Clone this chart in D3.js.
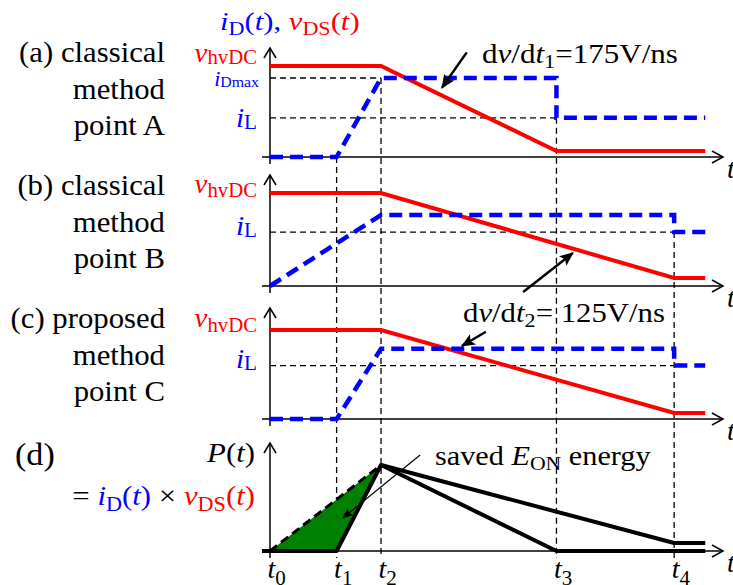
<!DOCTYPE html>
<html>
<head>
<meta charset="utf-8">
<script src="https://cdn.jsdelivr.net/npm/d3@7"></script>
<style>
  body { margin: 0; background: #fff; }
  svg { display: block; font-family: "Liberation Serif", "Times New Roman", serif; }
</style>
</head>
<body>
<svg id="chart" width="733" height="585"></svg>
<script>
// switching instants t0..t4 (arbitrary time units) and end of trace
var tNames = ["0", "1", "2", "3", "4"];
var tVals = [0, 1.5, 2.5, 6.45, 9.1];
var tEnd = 9.8;

// normalised levels (1 = vhvDC)
var iDmaxA = 0.868, iLA = 0.43, vLowA = 0.066;
var iTopB = 0.763, iLB = 0.58, vLowB = 0.086;
var iTopC = 0.79, iLC = 0.6, vLowC = 0.067;
var pTail = 0.093;

// (a) classical, point A
var vA = [[0, 1], [2.5, 1], [6.45, vLowA], [9.8, vLowA]];
var iA = [[0, 0], [1.5, 0], [2.5, iDmaxA], [6.45, iDmaxA], [6.45, iLA], [9.8, iLA]];
// (b) classical, point B
var vB = [[0, 1], [2.5, 1], [9.1, vLowB], [9.8, vLowB]];
var iB = [[0, 0], [2.5, iTopB], [9.1, iTopB], [9.1, iLB], [9.8, iLB]];
// (c) proposed, point C
var vC = [[0, 1], [2.5, 1], [9.1, vLowC], [9.8, vLowC]];
var iC = [[0, 0], [1.5, 0], [2.5, iTopC], [9.1, iTopC], [9.1, iLC], [9.8, iLC]];
// (d) power
var pRiseB = [[0, 0], [2.5, 1]];
var pA = [[-0.18, 0], [1.5, 0], [2.5, 1], [6.45, 0], [9.8, 0]];
var pC = [[2.5, 1], [9.1, pTail], [9.8, pTail]];
var saved = [[0, 0], [2.5, 1], [1.5, 0]];

var svg = d3.select("#chart");
var serif = "'Liberation Serif', 'Times New Roman', serif";
var red = "#ff0000", blue = "#0000ff";

var x = d3.scaleLinear().domain([-0.18, 10.2]).range([262, 723]);

var panels = [
  {base: 157, one: 66, top: 48},
  {base: 286, one: 193, top: 175},
  {base: 419, one: 330, top: 308},
  {base: 551, one: 465, top: 443}
];
panels.forEach(function(p) {
  p.y = d3.scaleLinear().domain([0, 1]).range([p.base, p.one]);
});
var yA = panels[0].y, yB = panels[1].y, yC = panels[2].y, yD = panels[3].y;

var defs = svg.append("defs");
defs.append("marker").attr("id", "head").attr("markerUnits", "userSpaceOnUse")
    .attr("markerWidth", 14).attr("markerHeight", 12).attr("refX", 13).attr("refY", 6)
    .attr("orient", "auto")
  .append("path").attr("d", "M0,0 L14,6 L0,12 L3,6 Z").attr("fill", "#000");
defs.append("marker").attr("id", "headS").attr("markerUnits", "userSpaceOnUse")
    .attr("markerWidth", 11).attr("markerHeight", 9).attr("refX", 10).attr("refY", 4.5)
    .attr("orient", "auto")
  .append("path").attr("d", "M0,0 L11,4.5 L0,9 L2,4.5 Z").attr("fill", "#000");

// text with italic / subscript pieces, optionally stretched horizontally
function rich(px, py, size, anchor, parts, color, sx, subDy) {
  var t = svg.append("text").attr("x", 0).attr("y", 0)
      .attr("transform", "translate(" + px + "," + py + ") scale(" + (sx || 1) + ",1)")
      .attr("font-size", size).attr("text-anchor", anchor)
      .attr("fill", color || "#000");
  var shift = 0;
  parts.forEach(function(p) {
    var st = p[1] || "";
    var sub = st.indexOf("s") >= 0;
    var dy = sub ? (subDy != null ? subDy : size * 0.2) : 0;
    var s = t.append("tspan").text(p[0]).attr("dy", dy - shift);
    shift = dy;
    if (sub) s.attr("font-size", size * 0.72);
    if (st.indexOf("i") >= 0) s.attr("font-style", "italic");
    if (p[2]) s.attr("fill", p[2]);
  });
  return t;
}

var line = function(y) {
  return d3.line().x(function(d) { return x(d[0]); }).y(function(d) { return y(d[1]); });
};

// guide lines
function guide(x1, y1, x2, y2) {
  svg.append("line").attr("x1", x1).attr("y1", y1).attr("x2", x2).attr("y2", y2)
      .attr("stroke", "#000").attr("stroke-width", 1.3).attr("stroke-dasharray", "6,4");
}
var bottom = yD(0) + 7;
guide(x(tVals[1]), yA(0), x(tVals[1]), bottom);
guide(x(tVals[2]), yA(iDmaxA), x(tVals[2]), bottom);
guide(x(tVals[3]), yA(iLA), x(tVals[3]), bottom);
guide(x(tVals[4]), yB(iLB), x(tVals[4]), bottom);
guide(x(0), yA(iDmaxA), x(tVals[2]), yA(iDmaxA));
guide(x(0), yA(iLA), x(tVals[3]), yA(iLA));
guide(x(0), yB(iLB), x(tVals[4]), yB(iLB));
guide(x(0), yC(iLC), x(tVals[4]), yC(iLC));

// axes with open arrow heads
panels.forEach(function(p) {
  var g = svg.append("g").attr("stroke", "#000").attr("stroke-width", 1.5).attr("fill", "none");
  var x0 = x(0), xe = x.range()[1];
  g.append("line").attr("x1", x0).attr("y1", p.base + 7).attr("x2", x0).attr("y2", p.top);
  g.append("path").attr("d", "M" + (x0 - 6) + "," + (p.top + 10) + "L" + x0 + "," + p.top + "L" + (x0 + 6) + "," + (p.top + 10));
  g.append("line").attr("x1", x.range()[0]).attr("y1", p.base).attr("x2", xe).attr("y2", p.base);
  g.append("path").attr("d", "M" + (xe - 11) + "," + (p.base - 6) + "L" + xe + "," + p.base + "L" + (xe - 11) + "," + (p.base + 6));
  rich(xe + 4, p.base + 21, 28, "start", [["t", "i"]]);
});

// saved energy area
svg.append("path").datum(saved).attr("d", line(yD)).attr("fill", "#008000");

// voltage and current traces
[[vA, iA, yA], [vB, iB, yB], [vC, iC, yC]].forEach(function(s) {
  svg.append("path").datum(s[0]).attr("d", line(s[2]))
      .attr("fill", "none").attr("stroke", red).attr("stroke-width", 4);
  svg.append("path").datum(s[1]).attr("d", line(s[2]))
      .attr("fill", "none").attr("stroke", blue).attr("stroke-width", 4.5)
      .attr("stroke-dasharray", "13,7");
});

// power traces
svg.append("path").datum(pRiseB).attr("d", line(yD))
    .attr("fill", "none").attr("stroke", "#000").attr("stroke-width", 3).attr("stroke-dasharray", "9,5");
[pA, pC].forEach(function(s) {
  svg.append("path").datum(s).attr("d", line(yD))
      .attr("fill", "none").attr("stroke", "#000").attr("stroke-width", 4)
      .attr("stroke-linejoin", "round");
});

// time labels under (d)
var ax = svg.append("g").attr("transform", "translate(0," + yD(0) + ")")
    .call(d3.axisBottom(x).tickValues(tVals).tickSize(0).tickPadding(7));
ax.select(".domain").remove();
ax.attr("font-family", serif).attr("font-size", 28);
ax.selectAll(".tick text").attr("fill", "#000").attr("text-anchor", "start").attr("dx", -3)
  .each(function(d, i) {
    var el = d3.select(this).text(null);
    el.append("tspan").attr("font-style", "italic").text("t");
    el.append("tspan").attr("font-size", 21).attr("dy", 7).text(tNames[i]);
  });

// annotation arrows
function arrow(y, tail, tip, w, m) {
  svg.append("line").attr("x1", x(tail[0])).attr("y1", y(tail[1]))
      .attr("x2", x(tip[0])).attr("y2", y(tip[1]))
      .attr("stroke", "#000").attr("stroke-width", w).attr("marker-end", "url(#" + m + ")");
}
arrow(yA, [4.43, 1.15], [3.87, 0.76], 2.5, "head");
arrow(yB, [5.7, -0.065], [6.82, 0.355], 2.5, "head");
arrow(yC, [4.86, 0.98], [4.32, 0.82], 2.5, "head");
arrow(yD, [3.38, 1.116], [1.64, 0.384], 1.2, "headS");

// title and labels
rich(220, 30, 26, "start", [["i", "i", blue], ["D", "s", blue], ["(", "", blue], ["t", "i", blue], ["), ", "", blue],
  ["v", "i", red], ["DS", "s", red], ["(", "", red], ["t", "i", red], [")", "", red]], null, 1.18);

var leftLabels = [["(a) classical", "method", "point A"], ["(b) classical", "method", "point B"], ["(c) proposed", "method", "point C"]];
var leftY = [62, 195, 328];
leftLabels.forEach(function(ls, k) {
  ls.forEach(function(s, j) {
    rich(165, leftY[k] + j * 36.5, 29, "end", [[s]], null, 1.06);
  });
});

rich(257, yA(1) - 4, 28, "end", [["v", "i"], ["hvDC", "s"]], red, 1.03, 2);
rich(257, yB(1), 28, "end", [["v", "i"], ["hvDC", "s"]], red, 1.03, 4);
rich(257, yC(1) - 3, 28, "end", [["v", "i"], ["hvDC", "s"]], red, 1.03, 5);
rich(259, yA(iDmaxA) + 8, 20, "end", [["i", "i"], ["Dmax", "s"]], blue, 1.1, 1);
rich(257, yA(iLA) + 9, 28, "end", [["i", "i"], ["L", "s"]], blue, 1.05, 2);
rich(257, yB(iLB) + 3, 28, "end", [["i", "i"], ["L", "s"]], blue, 1.05, 2);
rich(257, yC(iLC) + 2, 28, "end", [["i", "i"], ["L", "s"]], blue, 1.05, 2);

rich(482, 63, 27, "start", [["d"], ["v", "i"], ["/d"], ["t", "i"], ["1", "s"], ["=175V/ns"]], null, 1.15);
rich(463, 322, 27, "start", [["d"], ["v", "i"], ["/d"], ["t", "i"], ["2", "s"], ["= 125V/ns"]], null, 1.14);
rich(435, 465, 27, "start", [["saved "], ["E", "i"], ["ON", "s"], [" energy"]], null, 1.12);

rich(15, 465, 31, "start", [["(d)"]], null, 1.1);
rich(255, 462, 28, "end", [["P", "i"], ["("], ["t", "i"], [")"]], null, 1.1);
rich(255, 505, 28, "end", [["= "], ["i", "i", blue], ["D", "s", blue], ["(", "", blue], ["t", "i", blue], [")", "", blue], [" × "],
  ["v", "i", red], ["DS", "s", red], ["(", "", red], ["t", "i", red], [")", "", red]], null, 1.1);
</script>
</body>
</html>
